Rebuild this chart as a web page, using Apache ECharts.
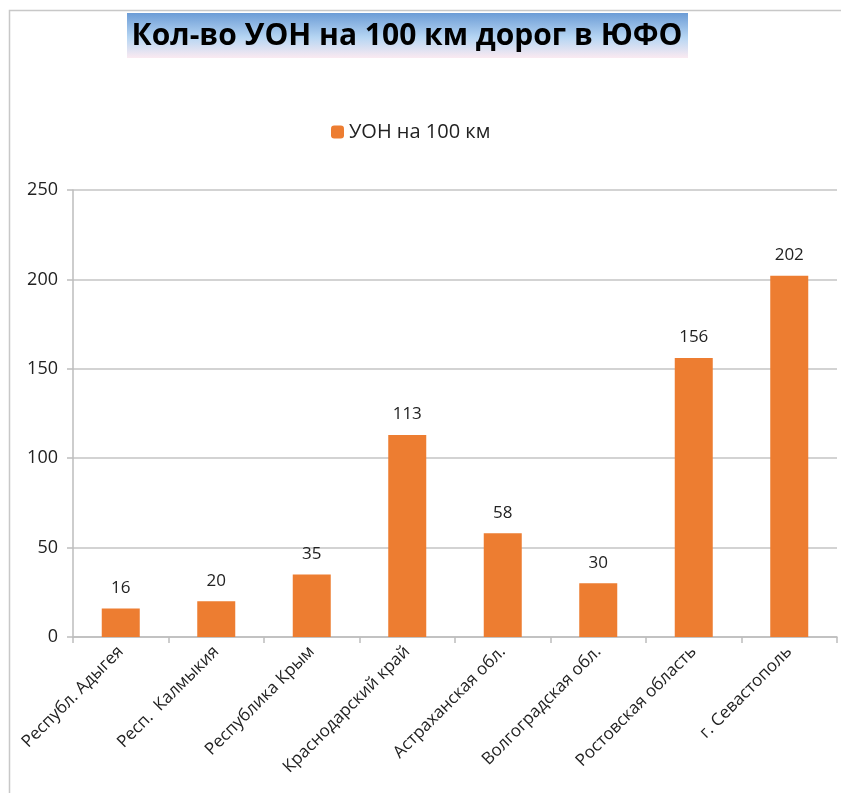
<!DOCTYPE html>
<html>
<head>
<meta charset="utf-8">
<script src="https://cdn.jsdelivr.net/npm/echarts@6/dist/echarts.min.js"></script>
<style>
  html, body { margin: 0; padding: 0; background: #fff; }
  #chart { width: 841px; height: 793px; }
</style>
</head>
<body>
<div id="chart"></div>
<script>
// данные
const regions = ['Республ. Адыгея', 'Респ.  Калмыкия', 'Республика Крым', 'Краснодарский край',
  'Астраханская обл.', 'Волгоградская обл.', 'Ростовская область', 'г. Севастополь'];
const uonPer100 = [16, 20, 35, 113, 58, 30, 156, 202];
const seriesName = 'УОН на 100 км';
const titleText = 'Кол-во УОН на 100 км дорог в ЮФО';

const font = 'Open Sans';
const chart = echarts.init(document.getElementById('chart'));

const option = {
  animation: false,
  textStyle: { fontFamily: font },
  graphic: [
    {
      type: 'rect',
      shape: { x: 9.5, y: 10.5, width: 900, height: 900 },
      style: { fill: 'none', stroke: '#c8c8c8', lineWidth: 1.5 },
      z: -10
    },
    {
      type: 'rect',
      shape: { x: 127, y: 13, width: 561, height: 45 },
      style: {
        fill: new echarts.graphic.LinearGradient(0, 0, 0, 1, [
          { offset: 0, color: '#6c9cd6' },
          { offset: 0.55, color: '#b7d6f3' },
          { offset: 1, color: '#fbeaf1' }
        ])
      }
    },
    {
      type: 'text',
      x: 407,
      y: 36,
      style: {
        text: titleText,
        font: 'bold 30px "' + font + '"',
        fill: '#000',
        align: 'center',
        verticalAlign: 'middle'
      }
    }
  ],
  legend: {
    top: 117,
    left: 326,
    itemWidth: 13,
    itemHeight: 13,
    itemGap: 7,
    textStyle: { fontSize: 20, color: '#222', fontFamily: font },
    data: [seriesName]
  },
  grid: { left: 73, right: 4, top: 190, bottom: 156 },
  xAxis: {
    type: 'category',
    data: regions,
    axisLine: { lineStyle: { color: '#bdbdbd', width: 1.5 } },
    axisTick: { show: true, length: 6, lineStyle: { color: '#bdbdbd', width: 1.5 } },
    axisLabel: { rotate: 45, fontSize: 17, color: '#222', margin: 12, interval: 0 }
  },
  yAxis: {
    type: 'value',
    min: 0,
    max: 250,
    interval: 50,
    axisLine: { show: true, lineStyle: { color: '#bdbdbd', width: 1.5 } },
    axisTick: { show: true, length: 6, lineStyle: { color: '#bdbdbd', width: 1.5 } },
    axisLabel: { fontSize: 18, color: '#222', margin: 15 },
    splitLine: { lineStyle: { color: '#c4c4c4', width: 1.5 } }
  },
  series: [{
    name: seriesName,
    type: 'bar',
    data: uonPer100,
    barWidth: 38,
    itemStyle: { color: '#ed7d31' },
    label: { show: true, position: 'top', distance: 12, fontSize: 17, color: '#222' }
  }]
};

chart.setOption(option);
</script>
</body>
</html>
